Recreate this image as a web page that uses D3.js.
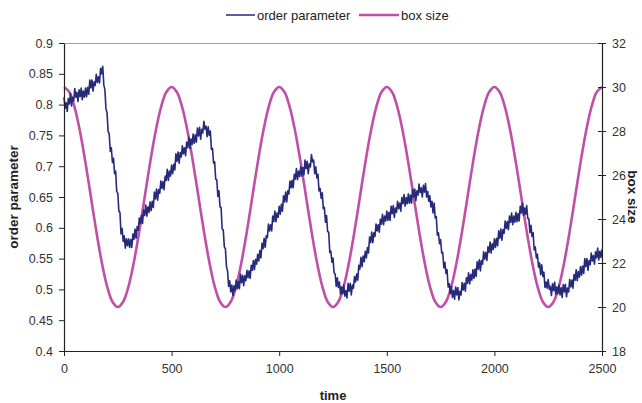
<!DOCTYPE html>
<html>
<head>
<meta charset="utf-8">
<script src="https://cdn.jsdelivr.net/npm/d3@7"></script>
<style>
  html, body { margin: 0; padding: 0; background: #fff; }
  svg { display: block; font-family: "Liberation Sans", Arial, sans-serif; }
</style>
</head>
<body>
<svg id="chart" width="642" height="403"></svg>
<script>
// order parameter, sampled every 5 time units from t = 0 to t = 2500 (one row = 100 time units)
const orderTimeStep = 5;
const orderParameter = [
  0.812,0.794,0.803,0.789,0.810,0.801,0.818,0.798,0.812,0.806,0.826,0.812,0.820,0.805,0.824,0.813,0.827,0.808,0.822,0.812,
  0.827,0.813,0.828,0.817,0.840,0.827,0.840,0.822,0.837,0.831,0.849,0.836,0.845,0.835,0.859,0.850,0.862,0.832,0.824,0.793,
  0.787,0.756,0.753,0.724,0.730,0.706,0.713,0.688,0.692,0.659,0.656,0.627,0.625,0.590,0.599,0.578,0.587,0.567,0.582,0.571,
  0.582,0.568,0.581,0.568,0.590,0.581,0.598,0.583,0.602,0.596,0.616,0.607,0.620,0.607,0.629,0.620,0.637,0.619,0.634,0.625,
  0.642,0.628,0.643,0.633,0.658,0.647,0.663,0.645,0.662,0.656,0.676,0.664,0.675,0.662,0.684,0.677,0.695,0.677,0.692,0.684,
  0.702,0.688,0.703,0.694,0.720,0.708,0.723,0.705,0.722,0.715,0.733,0.720,0.730,0.717,0.739,0.730,0.747,0.729,0.744,0.735,
  0.752,0.737,0.751,0.739,0.762,0.749,0.763,0.744,0.760,0.754,0.773,0.760,0.765,0.748,0.764,0.750,0.757,0.727,0.729,0.705,
  0.707,0.679,0.678,0.651,0.660,0.634,0.633,0.598,0.597,0.569,0.566,0.537,0.530,0.505,0.514,0.496,0.507,0.490,0.506,0.498,
  0.515,0.501,0.513,0.501,0.525,0.511,0.523,0.506,0.522,0.514,0.531,0.519,0.530,0.518,0.539,0.531,0.547,0.532,0.549,0.541,
  0.557,0.546,0.563,0.551,0.575,0.566,0.583,0.568,0.587,0.584,0.606,0.595,0.605,0.595,0.619,0.610,0.627,0.610,0.624,0.617,
  0.635,0.622,0.638,0.627,0.652,0.642,0.658,0.642,0.660,0.655,0.676,0.665,0.677,0.665,0.687,0.679,0.696,0.678,0.692,0.683,
  0.699,0.684,0.698,0.686,0.710,0.696,0.708,0.688,0.704,0.699,0.719,0.707,0.710,0.688,0.699,0.681,0.687,0.660,0.664,0.648,
  0.657,0.631,0.633,0.609,0.620,0.594,0.593,0.560,0.562,0.544,0.551,0.527,0.525,0.505,0.519,0.503,0.512,0.492,0.504,0.493,
  0.507,0.489,0.498,0.486,0.510,0.497,0.510,0.491,0.507,0.502,0.521,0.512,0.525,0.515,0.539,0.533,0.552,0.537,0.554,0.545,
  0.562,0.551,0.568,0.559,0.585,0.576,0.593,0.576,0.592,0.586,0.606,0.595,0.605,0.593,0.614,0.606,0.622,0.605,0.619,0.611,
  0.627,0.612,0.625,0.612,0.635,0.623,0.636,0.617,0.632,0.625,0.643,0.631,0.640,0.627,0.649,0.639,0.654,0.635,0.649,0.639,
  0.655,0.640,0.653,0.640,0.662,0.650,0.663,0.644,0.660,0.653,0.671,0.657,0.665,0.650,0.669,0.658,0.672,0.650,0.659,0.643,
  0.652,0.634,0.643,0.624,0.640,0.616,0.618,0.588,0.592,0.574,0.581,0.559,0.560,0.535,0.544,0.526,0.532,0.504,0.509,0.493,
  0.505,0.487,0.498,0.484,0.504,0.491,0.503,0.483,0.497,0.491,0.511,0.499,0.510,0.497,0.519,0.510,0.527,0.509,0.524,0.515,
  0.532,0.518,0.533,0.521,0.545,0.533,0.548,0.530,0.547,0.541,0.561,0.549,0.560,0.547,0.569,0.560,0.577,0.559,0.574,0.565,
  0.582,0.568,0.583,0.571,0.595,0.583,0.598,0.580,0.597,0.591,0.611,0.599,0.610,0.597,0.619,0.609,0.624,0.605,0.619,0.609,
  0.625,0.610,0.623,0.611,0.635,0.624,0.640,0.620,0.632,0.622,0.636,0.615,0.615,0.592,0.604,0.586,0.592,0.564,0.569,0.551,
  0.557,0.536,0.543,0.524,0.540,0.521,0.528,0.503,0.512,0.502,0.516,0.500,0.505,0.490,0.509,0.498,0.512,0.492,0.504,0.493,
  0.507,0.491,0.503,0.487,0.508,0.496,0.508,0.488,0.502,0.496,0.516,0.504,0.515,0.502,0.524,0.515,0.532,0.514,0.529,0.520,
  0.537,0.523,0.538,0.526,0.550,0.537,0.550,0.531,0.547,0.540,0.559,0.546,0.555,0.541,0.561,0.551,0.567,0.548,0.562,0.552,
  0.565
];

// box size, sampled every 25 time units from t = 0 to t = 2500
const boxTimeStep = 25;
const boxSize = [
  30,29.76,29.05,27.94,26.55,25,23.45,22.06,20.95,20.24,
  20,20.24,20.95,22.06,23.45,25,26.55,27.94,29.05,29.76,
  30,29.76,29.05,27.94,26.55,25,23.45,22.06,20.95,20.24,
  20,20.24,20.95,22.06,23.45,25,26.55,27.94,29.05,29.76,
  30,29.76,29.05,27.94,26.55,25,23.45,22.06,20.95,20.24,
  20,20.24,20.95,22.06,23.45,25,26.55,27.94,29.05,29.76,
  30,29.76,29.05,27.94,26.55,25,23.45,22.06,20.95,20.24,
  20,20.24,20.95,22.06,23.45,25,26.55,27.94,29.05,29.76,
  30,29.76,29.05,27.94,26.55,25,23.45,22.06,20.95,20.24,
  20,20.24,20.95,22.06,23.45,25,26.55,27.94,29.05,29.76,
  30
];

const timeTicks = [0, 500, 1000, 1500, 2000, 2500];
const orderTicks = [0.4, 0.45, 0.5, 0.55, 0.6, 0.65, 0.7, 0.75, 0.8, 0.85, 0.9];
const boxTicks = [18, 20, 22, 24, 26, 28, 30, 32];
const seriesNames = ["order parameter", "box size"];

const colors = { order: "#262a7a", box: "#c04fa8" };
const margin = { left: 64, right: 40, top: 43, bottom: 52 };
const W = 642, H = 403;
const x0 = margin.left, x1 = W - margin.right, y0 = margin.top, y1 = H - margin.bottom;

const svg = d3.select("#chart");

const x = d3.scaleLinear().domain([0, 2500]).range([x0, x1]);
const yL = d3.scaleLinear().domain([0.4, 0.9]).range([y1, y0]);
const yR = d3.scaleLinear().domain([18, 32]).range([y1, y0]);

// plot frame top line
svg.append("line")
  .attr("x1", x0).attr("x2", x1).attr("y1", y0 + 0.5).attr("y2", y0 + 0.5)
  .attr("stroke", "#a0a0a0").attr("stroke-width", 1.2);

// data lines
const orderData = orderParameter.map((v, i) => [i * orderTimeStep, v]);
const boxData = boxSize.map((v, i) => [i * boxTimeStep, v]);

svg.append("path")
  .datum(boxData)
  .attr("fill", "none")
  .attr("stroke", colors.box)
  .attr("stroke-width", 2.6)
  .attr("d", d3.line().x(d => x(d[0])).y(d => yR(d[1])).curve(d3.curveCatmullRom));

svg.append("path")
  .datum(orderData)
  .attr("fill", "none")
  .attr("stroke", colors.order)
  .attr("stroke-width", 1.6)
  .attr("stroke-linejoin", "round")
  .attr("d", d3.line().x(d => x(d[0])).y(d => yL(d[1])));

// axes
const fmtL = d => (Math.round(d * 100) % 10 === 0) ? d3.format(".1f")(d) : d3.format(".2f")(d);

const axisStyle = g => {
  g.select(".domain").attr("stroke", "#222").attr("stroke-width", 1.2);
  g.selectAll(".tick line").attr("stroke", "#222").attr("stroke-width", 1);
  g.selectAll(".tick text").attr("fill", "#333").style("font-size", "12.5px")
    .style("font-family", '"Liberation Sans", Arial, sans-serif');
};

svg.append("g")
  .attr("transform", `translate(${x0},0)`)
  .call(d3.axisLeft(yL).tickValues(orderTicks).tickFormat(fmtL).tickSize(5).tickSizeOuter(0).tickPadding(6))
  .call(axisStyle);

const gR = svg.append("g")
  .attr("transform", `translate(${x1},0)`)
  .call(d3.axisRight(yR).tickValues(boxTicks).tickFormat(d3.format("d")).tickSize(4).tickSizeOuter(0).tickPadding(6))
  .call(axisStyle);
gR.selectAll(".tick line").attr("x1", -4);

svg.append("g")
  .attr("transform", `translate(0,${y1})`)
  .call(d3.axisBottom(x).tickValues(timeTicks).tickFormat(d3.format("d")).tickSize(5).tickSizeOuter(0).tickPadding(8))
  .call(axisStyle);

// axis titles
svg.append("text")
  .attr("x", (x0 + x1) / 2).attr("y", 400)
  .attr("text-anchor", "middle")
  .style("font-size", "13px").style("font-weight", "bold").attr("fill", "#222")
  .text("time");

svg.append("text")
  .attr("transform", `translate(18,${(y0 + y1) / 2}) rotate(-90)`)
  .attr("text-anchor", "middle")
  .style("font-size", "13.5px").style("font-weight", "bold").attr("fill", "#222")
  .text("order parameter");

svg.append("text")
  .attr("transform", `translate(628,${(y0 + y1) / 2}) rotate(90)`)
  .attr("text-anchor", "middle")
  .style("font-size", "13.5px").style("font-weight", "bold").attr("fill", "#222")
  .text("box size");

// legend
const legend = svg.append("g");
const legendItems = [
  { name: seriesNames[0], color: colors.order, lx: 226, lw: 29, sw: 1.5 },
  { name: seriesNames[1], color: colors.box, lx: 359, lw: 40, sw: 2.6 }
];
legendItems.forEach(it => {
  legend.append("line")
    .attr("x1", it.lx).attr("x2", it.lx + it.lw).attr("y1", 15).attr("y2", 15)
    .attr("stroke", it.color).attr("stroke-width", it.sw);
  legend.append("text")
    .attr("x", it.lx + it.lw + 2).attr("y", 19.5)
    .style("font-size", "13px").attr("fill", "#222")
    .text(it.name);
});
</script>
</body>
</html>
